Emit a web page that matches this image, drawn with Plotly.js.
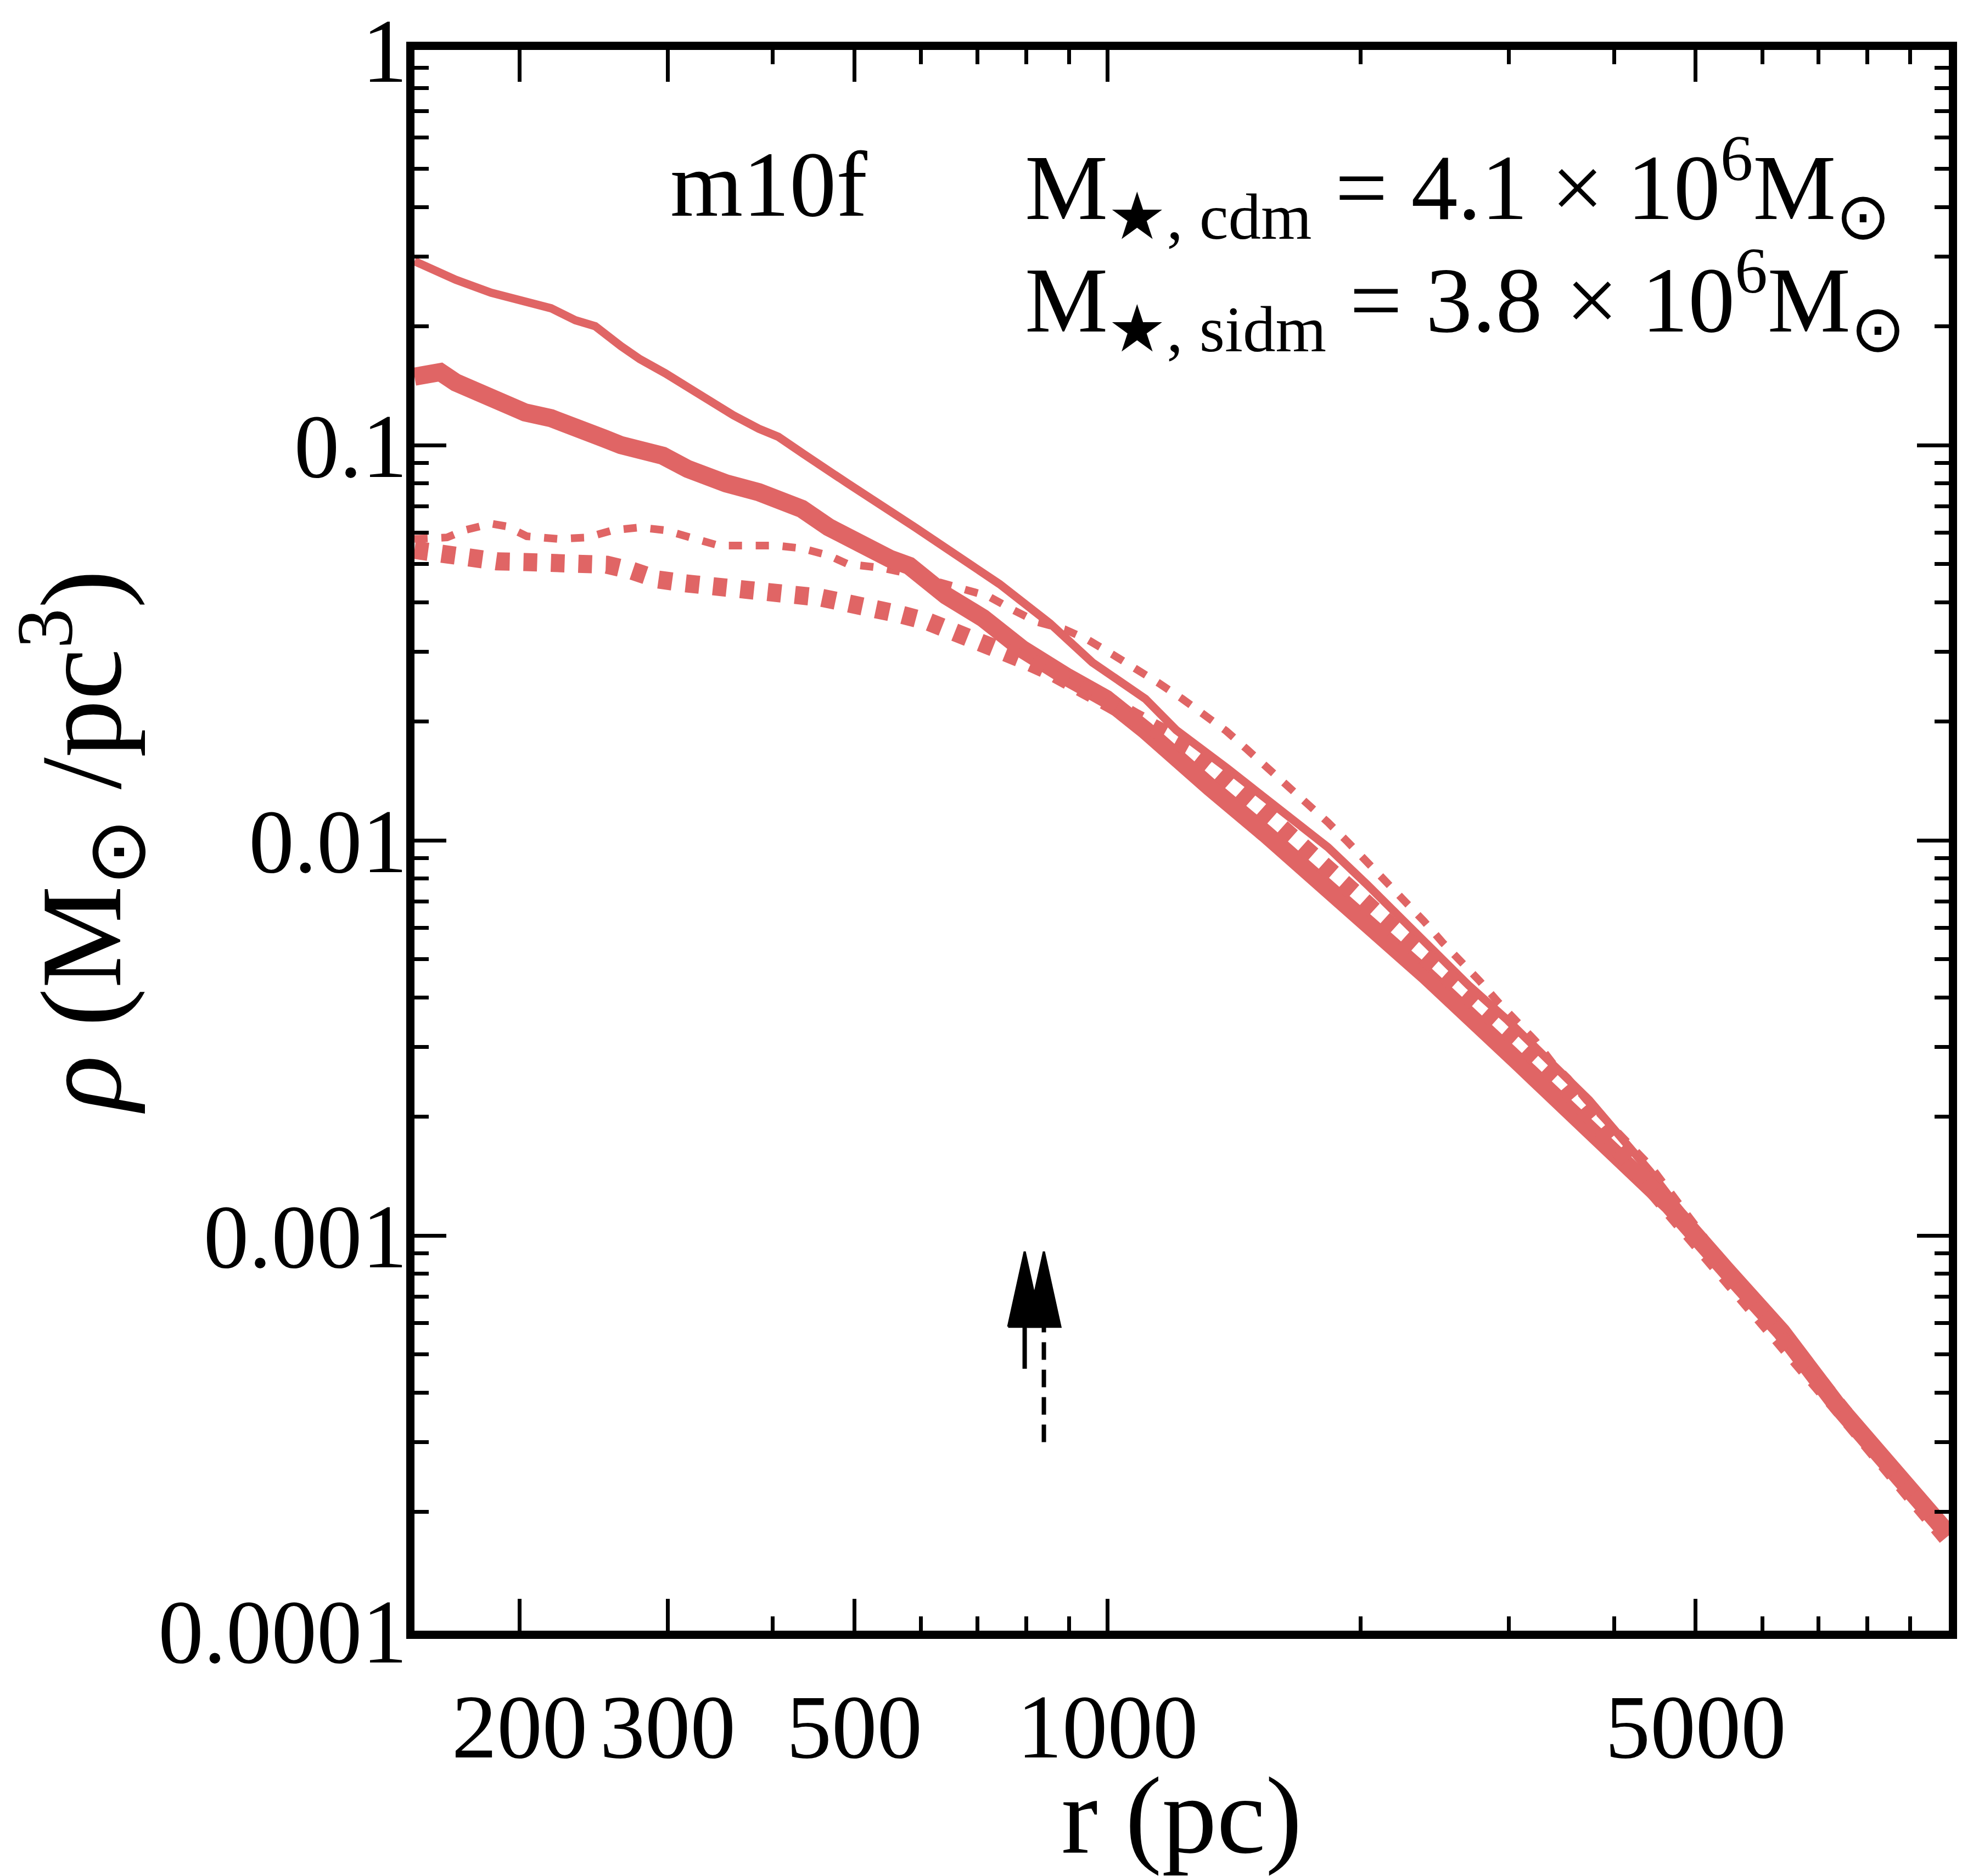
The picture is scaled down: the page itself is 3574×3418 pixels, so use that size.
<!DOCTYPE html>
<html>
<head>
<meta charset="utf-8">
<script src="https://cdn.plot.ly/plotly-3.0.1.min.js"></script>
<style>
  html, body { margin: 0; padding: 0; background: #fff; }
  #graph { width: 3574px; height: 3418px; }
</style>
</head>
<body>
<div id="graph"></div>
<script>
// density profiles, r in pc, rho in Msun/pc^3
const rCdmDmo = [150, 161, 168, 185, 200, 218, 233, 246, 264, 278, 298, 317, 340, 359, 385, 406, 435, 462, 491,
    590, 668, 744, 854, 959, 1109, 1207, 1388, 1631, 1828, 2038, 2376, 2685, 2991, 3329, 3737, 4417,
    5428, 6328, 7379, 8603, 10000];
const rhoCdmDmo = [0.292, 0.273, 0.262, 0.243, 0.234, 0.222, 0.207, 0.200, 0.178, 0.165, 0.152, 0.140, 0.127, 0.119, 0.110, 0.105, 0.095, 0.087, 0.080,
    0.062, 0.052, 0.0445, 0.0354, 0.0282, 0.0228, 0.019, 0.0152, 0.0117, 0.0096, 0.0077, 0.0056, 0.0043, 0.0035, 0.0028, 0.0022, 0.00145,
    0.00082, 0.00057, 0.00037, 0.00025, 0.000175];

const rCdmHydro = [150, 161, 168, 181, 185, 203, 218, 233, 252, 264, 296, 317, 338, 352, 385, 433, 466, 491,
    551, 581, 643, 711, 791, 895, 996, 1109, 1253, 1325, 1540, 1693, 2393, 3082, 3975, 4656,
    5428, 6328, 7379, 8603, 10000];
const rhoCdmHydro = [0.149, 0.153, 0.144, 0.134, 0.131, 0.121, 0.117, 0.112, 0.104, 0.100, 0.094, 0.087, 0.082, 0.080, 0.076, 0.069, 0.062, 0.058,
    0.0516, 0.0495, 0.0416, 0.0365, 0.0305, 0.0259, 0.0228, 0.019, 0.0149, 0.0136, 0.0104, 0.00875, 0.00454, 0.00274, 0.00165, 0.00119,
    0.00082, 0.00057, 0.00037, 0.00025, 0.000175];

const rSidmDmo = [150, 164, 172, 179, 185, 193, 204, 222, 241, 258, 278, 298, 322, 345, 373, 404, 433, 466, 491,
    539, 580, 643, 721, 770, 824, 889, 949, 1012, 1081, 1150, 1227, 1303, 1384, 1464, 1531,
    1636, 1735, 1828, 1930, 2038, 2142, 2251, 2376, 2504, 2644, 2770, 2911, 3059, 3229, 3394, 3525, 3710, 4036, 4417,
    5428, 6328, 7379, 8603, 10000];
const rhoSidmDmo = [0.0579, 0.0584, 0.0609, 0.0619, 0.0633, 0.0623, 0.0588, 0.0579, 0.0584, 0.0609, 0.0619, 0.0609, 0.0584, 0.0557, 0.0557, 0.0557, 0.0548, 0.0526, 0.050,
    0.0489, 0.0473, 0.0445, 0.0415, 0.0384, 0.0357, 0.0342, 0.0321, 0.0296, 0.0272, 0.025, 0.0228, 0.0208, 0.0189, 0.017, 0.0156,
    0.0137, 0.0124, 0.0111, 0.0099, 0.0088, 0.0079, 0.0070, 0.00625, 0.0055, 0.0049, 0.0044, 0.0039, 0.0035, 0.0031, 0.0027, 0.0025, 0.0022, 0.00182, 0.0015,
    0.00084, 0.00059, 0.00039, 0.00026, 0.00018];

const rSidmHydro = [150, 161, 174, 188, 203, 218, 235, 254, 272, 292, 315, 339, 366, 393, 425, 457, 491,
    530, 570, 613, 657, 706, 757, 809, 867, 925, 984, 1075, 1178, 1249, 1323, 1399, 1481,
    1568, 1753, 1960, 2184, 2441, 2729, 3082, 3461, 3880, 4417,
    5428, 6328, 7379, 8603, 10000];
const rhoSidmHydro = [0.0543, 0.053, 0.0513, 0.0508, 0.0506, 0.0504, 0.0501, 0.0498, 0.0481, 0.0457, 0.0447, 0.044, 0.0435, 0.0431, 0.0425, 0.0411, 0.0398,
    0.0387, 0.0372, 0.0357, 0.0338, 0.032, 0.030, 0.0282, 0.0264, 0.0248, 0.0228, 0.0205, 0.0185, 0.0172, 0.0156, 0.0141, 0.0127,
    0.0113, 0.0092, 0.0074, 0.0060, 0.0049, 0.0039, 0.0031, 0.00245, 0.00185, 0.00135,
    0.0008, 0.00056, 0.00037, 0.00025, 0.00017];

// arrows (solid = cdm, dashed = sidm)
const arrowR = [797, 840];
const arrowTip = [9.1e-4, 9.1e-4];
const arrowTail = [4.6e-4, 3.0e-4];
const arrowDash = ["solid", "dash"];

const xTickVals = [200, 300, 500, 1000, 5000];
const xTickText = ["200", "300", "500", "1000", "5000"];
const xMinorVals = [400, 600, 700, 800, 900, 2000, 3000, 4000, 6000, 7000, 8000, 9000];
const yTickVals = [0.0001, 0.001, 0.01, 0.1, 1];
const yTickText = ["0.0001", "0.001", "0.01", "0.1", "1"];
const yMinorVals = [];
[0.0001, 0.001, 0.01, 0.1].forEach(function (d) {
    for (let k = 2; k <= 9; k++) yMinorVals.push(k * d);
});

const red = "rgb(224,101,101)";
const serif = "Liberation Serif, Times New Roman, serif";

const traces = [
    { x: rCdmDmo, y: rhoCdmDmo, mode: "lines", line: { color: red, width: 15 } },
    { x: rSidmDmo, y: rhoSidmDmo, mode: "lines", line: { color: red, width: 14, dash: "24px,25px" } },
    { x: rCdmHydro, y: rhoCdmHydro, mode: "lines", line: { color: red, width: 33 } },
    { x: rSidmHydro, y: rhoSidmHydro, mode: "lines", line: { color: red, width: 33, dash: "25px,25px" } }
];

// arrow shafts and heads
const headLen = 0.19;   // dex in rho
const headHalf = 0.0196; // dex in r
arrowR.forEach(function (r, i) {
    const base = arrowTip[i] / Math.pow(10, headLen);
    traces.push({ x: [r, r], y: [arrowTail[i], base], mode: "lines",
        line: { color: "black", width: 8, dash: arrowDash[i] === "dash" ? "32px,18px" : "solid" } });
    traces.push({ x: [r / Math.pow(10, headHalf), r, r * Math.pow(10, headHalf), r / Math.pow(10, headHalf)],
        y: [base, arrowTip[i], base, base], mode: "lines", fill: "toself", fillcolor: "black",
        line: { color: "black", width: 4 } });
});

const axisCommon = {
    type: "log", showline: true, linewidth: 15, linecolor: "black", mirror: "allticks",
    ticks: "inside", ticklen: 58, tickwidth: 7, tickcolor: "black",
    showgrid: false, zeroline: false, tickmode: "array",
    tickfont: { family: serif, size: 165, color: "black" }
};

const layout = {
    width: 3574, height: 3418,
    margin: { l: 755, r: 24, t: 91, b: 447 },
    paper_bgcolor: "white", plot_bgcolor: "white",
    showlegend: false,
    xaxis: Object.assign({}, axisCommon, {
        range: [Math.log10(150), 4],
        tickvals: xTickVals, ticktext: xTickText,
        ticklabelstandoff: 18,
        minor: { tickmode: "array", tickvals: xMinorVals, ticks: "inside", ticklen: 26, tickwidth: 7, tickcolor: "black", showgrid: false },
        title: { text: "r (pc)", font: { family: serif, size: 200, color: "black" }, standoff: 70 }
    }),
    yaxis: Object.assign({}, axisCommon, {
        range: [-4, 0],
        tickvals: yTickVals, ticktext: yTickText,
        ticklabelstandoff: -35,
        minor: { tickmode: "array", tickvals: yMinorVals, ticks: "inside", ticklen: 26, tickwidth: 7, tickcolor: "black", showgrid: false },
        title: { text: "<i>ρ</i> (M<sub>⊙</sub> /pc<sup>3</sup>)", font: { family: serif, size: 210, color: "black" }, standoff: 40 }
    }),
    annotations: [
        { text: "m10f", xref: "paper", yref: "paper", x: 0.166, y: 0.915, xanchor: "left", yanchor: "middle",
          showarrow: false, font: { family: serif, size: 170, color: "black" } },
        { text: "M<sub>★, cdm</sub> = 4.1 × 10<sup>6</sup>M<sub>⊙</sub>", xref: "paper", yref: "paper", x: 0.397, y: 0.913,
          xanchor: "left", yanchor: "middle", showarrow: false, font: { family: serif, size: 170, color: "black" } },
        { text: "M<sub>★, sidm</sub> = 3.8 × 10<sup>6</sup>M<sub>⊙</sub>", xref: "paper", yref: "paper", x: 0.397, y: 0.842,
          xanchor: "left", yanchor: "middle", showarrow: false, font: { family: serif, size: 170, color: "black" } }
    ]
};

Plotly.newPlot("graph", traces, layout, { displayModeBar: false, staticPlot: true });
</script>
</body>
</html>
